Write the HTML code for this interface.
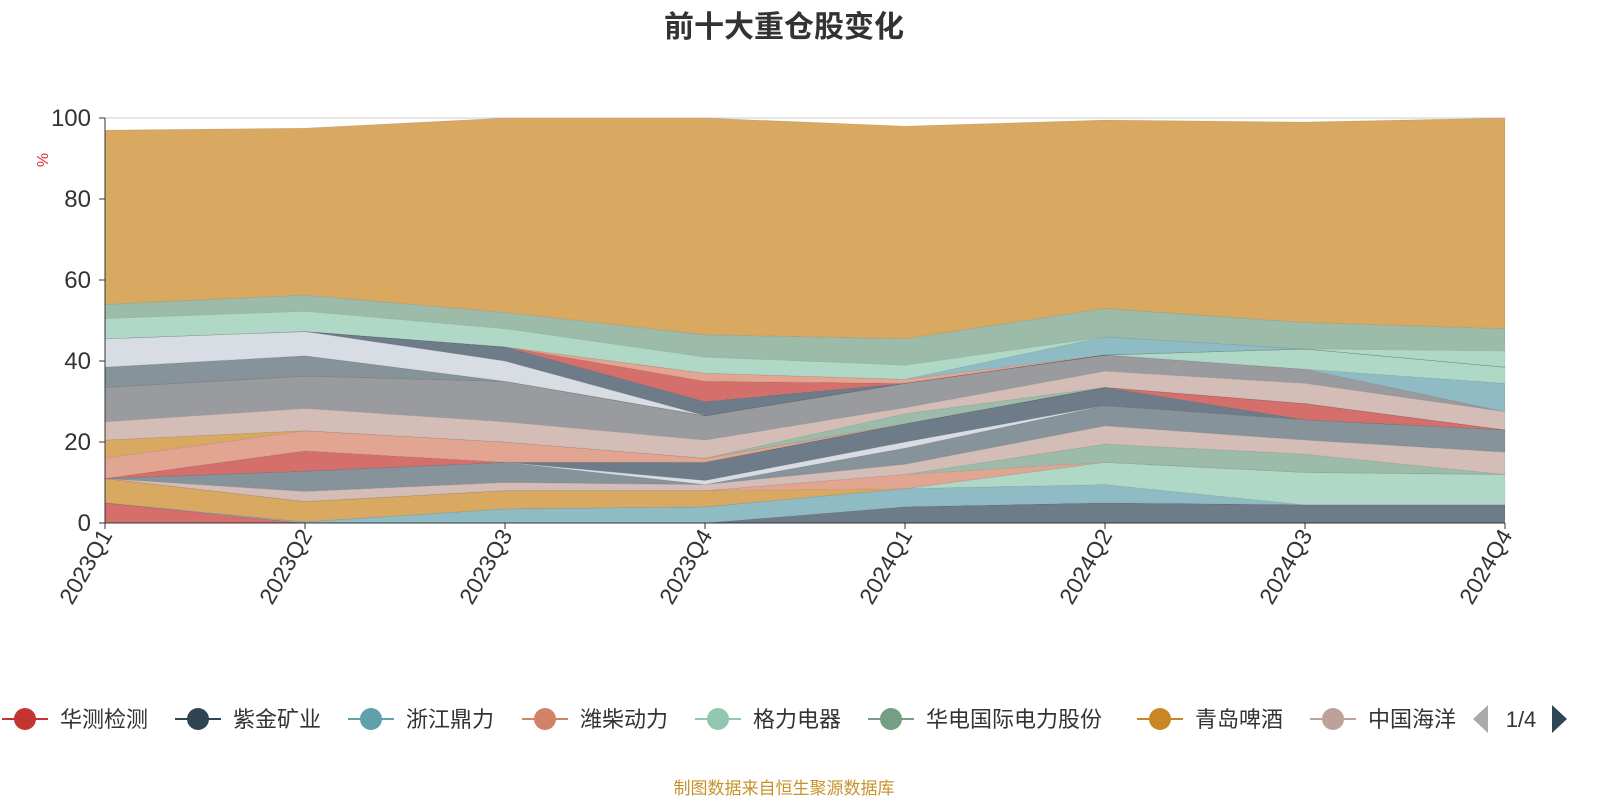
<!DOCTYPE html>
<html><head><meta charset="utf-8"><style>
body{margin:0;background:#fff;}
svg text{font-family:"Liberation Sans","Noto Sans CJK SC",sans-serif;}
</style></head><body>
<svg id="c" width="1600" height="800" xmlns="http://www.w3.org/2000/svg">
<text x="784" y="37" text-anchor="middle" font-size="30" font-weight="bold" fill="#333">前十大重仓股变化</text>
<text transform="translate(48,160) rotate(-90)" text-anchor="middle" font-size="16" fill="#e03030">%</text>
<g id="grid"></g><g id="areas"></g><g id="axes"></g>
<g id="legend"></g>
<text x="784" y="794" text-anchor="middle" font-size="17" fill="#c8922a">制图数据来自恒生聚源数据库</text>
</svg>
<script>
const categories=["2023Q1","2023Q2","2023Q3","2023Q4","2024Q1","2024Q2","2024Q3","2024Q4"];
const yTicks=[0,20,40,60,80,100];
const s1=[5,0,0,0,0,0,0,0];
const s2=[0,0,0,0,4,5,4.5,4.5];
const s3=[0,0.3,3.5,4,4.5,4.5,0,0];
const s4=[0,0,0,0,0,5.5,8,7.5];
const s5=[6,5,4.5,4,0,0,0,0];
const s6=[0,0,0,0,3.5,0,0,0];
const s7=[0,0,0,0,0,4.5,4.5,0];
const s8=[0,2.5,2,1.5,2.5,4.5,3.5,5.5];
const s9=[0,5,5,0,4,5,5,5.5];
const s10=[0,0,0,1,1.5,0,0,0];
const s11=[0,0,0,4.5,4.5,4.5,0,0];
const s12=[0,5,0,0,0,0,4,0];
const s13=[5,5,5,1,0,0,0,0];
const s14=[4.5,0,0,0,0,0,0,0];
const s15=[0,0,0,0,2.5,0,0,0];
const s16=[4.5,5.5,5,4.5,1.5,4,5,4.5];
const s17=[8.5,8,10,6,6,4,3.5,0];
const s18=[0,0,0,0,0,0,0,7];
const s19=[0,0,0,0,0,0,5,4];
const s20=[5,5,0,0,0,0,0,0];
const s21=[7,6,5,0,0,0,0,0];
const s22=[0,0,3.5,3.5,0,0,0,0];
const s23=[0,0,0,5,0,0,0,0];
const s24=[0,0,0,2,1,0,0,0];
const s25=[0,0,0,0,0,4.5,0,0];
const s26=[5,5,4.5,4,3.5,0,0,4];
const s27=[3.5,4,4,5.5,6.5,7,6.5,5.5];
const s28=[43,41.2,48,53.5,52.5,46.5,49.5,52];
const seriesValues=[s1,s2,s3,s4,s5,s6,s7,s8,s9,s10,s11,s12,s13,s14,s15,s16,s17,s18,s19,s20,s21,s22,s23,s24,s25,s26,s27,s28];
const colors=["#d46f6c","#6e7b88","#8fbcc4","#afd9c6","#d9a962","#e1a592","#9dbba9","#d3bdb6","#86939a","#d8dce3","#6e7b88","#d46f6c","#e1a592","#d9a962","#9dbba9","#d3bdb6","#9a9b9f","#8fbcc4","#afd9c6","#86939a","#d8dce3","#6e7b88","#d46f6c","#e1a592","#8fbcc4","#afd9c6","#9dbba9","#d9a962"];
const legendNames=["华测检测","紫金矿业","浙江鼎力","潍柴动力","格力电器","华电国际电力股份","青岛啤酒","中国海洋"];
const legendColors=["#c23531","#2f4554","#61a0a8","#d48265","#91c7ae","#749f83","#ca8622","#bda29a"];
const NS="http://www.w3.org/2000/svg";
const X0=105,X1=1505,Y0=523,Y1=118;
const xs=i=>X0+i*(X1-X0)/(categories.length-1);
const ys=v=>Y0-v*(Y0-Y1)/100;
function mk(t,a,p){const e=document.createElementNS(NS,t);for(const k in a)e.setAttribute(k,a[k]);p.appendChild(e);return e;}
const grid=document.getElementById('grid'),axes=document.getElementById('axes'),areas=document.getElementById('areas'),leg=document.getElementById('legend');
yTicks.forEach(v=>{
 const l=mk('line',{x1:X0,x2:X1,y1:ys(v),y2:ys(v),stroke:'#ccc'},grid);
 
 
 const t=mk('text',{x:X0-14,y:ys(v)+8,'text-anchor':'end','font-size':24,fill:'#333'},axes);t.textContent=v;
 
 
 mk('line',{x1:X0-6,x2:X0,y1:ys(v),y2:ys(v),stroke:'#333'},axes);
});
let base=categories.map(()=>0);
seriesValues.forEach((vals,si)=>{
 const top=base.map((b,i)=>b+vals[i]);
 let d='';
 top.forEach((v,i)=>{d+=(i?'L':'M')+xs(i)+','+ys(v);});
 for(let i=base.length-1;i>=0;i--)d+='L'+xs(i)+','+ys(base[i]);
 const p=mk('path',{d:d+'Z',fill:colors[si],stroke:'rgba(0,0,0,0.08)','stroke-width':0.8},areas);
 
 
 base=top;
});
mk('line',{x1:X0,x2:X0,y1:Y1,y2:Y0,stroke:'#333'},axes);
mk('line',{x1:X0,x2:X1,y1:Y0,y2:Y0,stroke:'#333'},axes);
categories.forEach((c,i)=>{
 mk('line',{x1:xs(i),x2:xs(i),y1:Y0,y2:Y0+6,stroke:'#333'},axes);
 const t=mk('text',{transform:`translate(${xs(i)+8},${Y0+12}) rotate(-60)`,'text-anchor':'end','font-size':23,fill:'#333'},axes);
 t.textContent=c;
 
 
});
const lx=[2,175,348,522,695,868,1137,1310];
const clip=mk('clipPath',{id:'lc'},leg);mk('rect',{x:0,y:690,width:1468,height:60},clip);
const lg=mk('g',{'clip-path':'url(#lc)'},leg);
legendNames.forEach((n,i)=>{
 const g=mk('g',{},lg);
 
 
 mk('line',{x1:lx[i],x2:lx[i]+46,y1:719,y2:719,stroke:legendColors[i],'stroke-width':2},g);
 mk('circle',{cx:lx[i]+23,cy:719,r:11,fill:legendColors[i]},g);
 const t=mk('text',{x:lx[i]+58,y:727,'font-size':22,fill:'#333'},g);t.textContent=n;
});
const pl=mk('path',{d:'M1473,719 L1488,705 L1488,733 Z',fill:'#aaa'},leg);


const pt=mk('text',{x:1521,y:727,'text-anchor':'middle','font-size':22,fill:'#333'},leg);pt.textContent='1/4';


const pn=mk('path',{d:'M1567,719 L1552,705 L1552,733 Z',fill:'#2f4554'},leg);


</script>
</body></html>
